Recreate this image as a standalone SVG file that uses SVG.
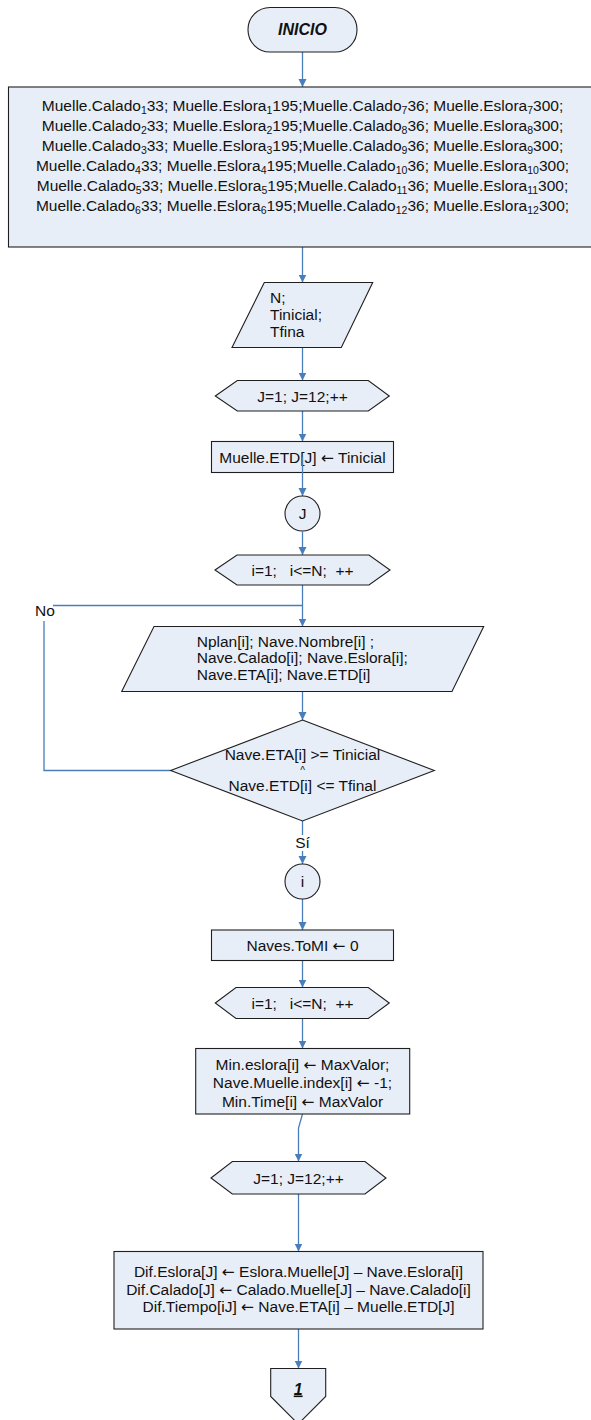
<svg xmlns="http://www.w3.org/2000/svg" width="591" height="1420" viewBox="0 0 591 1420">
  <defs>
    <style>
      .shape { fill: #E8EEF7; stroke: #1F1F1F; stroke-width: 1.1; }
      .conn { fill: none; stroke: #4A7EBB; stroke-width: 1.3; }
      .arrow { marker-end: url(#head); }
      text { font-family: "Liberation Sans", Arial, sans-serif; font-size: 15.5px; fill: #111; }
      .c { text-anchor: middle; }
      .bi { font-weight: bold; font-style: italic; font-size: 16px; }
      .sub { font-size: 10.5px; }
      .arr { font-family: "DejaVu Sans", sans-serif; }
    </style>
    <marker id="head" viewBox="0 0 10 10" refX="10" refY="5" markerWidth="8" markerHeight="9" markerUnits="userSpaceOnUse" orient="auto">
      <path d="M0,0 L10,5 L0,10 Z" fill="#4A7EBB"/>
    </marker>
  </defs>

  <!-- connectors -->
  <g id="connectors">
    <line class="conn arrow" x1="302.5" y1="52" x2="302.5" y2="87"/>
    <line class="conn arrow" x1="302.5" y1="247" x2="302.5" y2="282.5"/>
    <line class="conn arrow" x1="302.5" y1="347.5" x2="302.5" y2="380.5"/>
    <line class="conn arrow" x1="302.5" y1="411" x2="302.5" y2="441.5"/>
    <line class="conn arrow" x1="302.5" y1="585" x2="302.5" y2="626.5"/>
    <line class="conn arrow" x1="302.5" y1="691.5" x2="302.5" y2="720"/>
    <line class="conn arrow" x1="302.5" y1="899" x2="302.5" y2="930"/>
    <line class="conn arrow" x1="302.5" y1="960.5" x2="302.5" y2="987.5"/>
    <line class="conn arrow" x1="302.5" y1="1018.5" x2="302.5" y2="1048.5"/>
    <path class="conn arrow" d="M302.5,1114 L298.5,1128 L298.5,1161.5"/>
    <line class="conn arrow" x1="298.5" y1="1194" x2="298.5" y2="1251.5"/>
    <line class="conn arrow" x1="298.5" y1="1329" x2="298.5" y2="1368.5"/>
    <!-- No branch loops back above the input -->
    <path class="conn" d="M170.7,770.5 H44 V621"/>
    <path class="conn" d="M53,605.5 H302.5"/>
    <!-- Sí branch -->
    <line class="conn" x1="302.5" y1="821" x2="302.5" y2="835"/>
    <line class="conn arrow" x1="302.5" y1="851" x2="302.5" y2="864"/>
  </g>

  <g id="inicio">
    <rect class="shape" x="248" y="7.5" width="109" height="44.5" rx="22" ry="22"/>
    <text class="c bi" x="302.5" y="35">INICIO</text>
  </g>

  <g id="muelles">
    <rect class="shape" x="8.5" y="87" width="584" height="160"/>
    <text class="c" x="302.5" y="110.5">Muelle.Calado<tspan class="sub" dy="3">1</tspan><tspan dy="-3">33; Muelle.Eslora</tspan><tspan class="sub" dy="3">1</tspan><tspan dy="-3">195;Muelle.Calado</tspan><tspan class="sub" dy="3">7</tspan><tspan dy="-3">36; Muelle.Eslora</tspan><tspan class="sub" dy="3">7</tspan><tspan dy="-3">300;</tspan></text>
    <text class="c" x="302.5" y="130.5">Muelle.Calado<tspan class="sub" dy="3">2</tspan><tspan dy="-3">33; Muelle.Eslora</tspan><tspan class="sub" dy="3">2</tspan><tspan dy="-3">195;Muelle.Calado</tspan><tspan class="sub" dy="3">8</tspan><tspan dy="-3">36; Muelle.Eslora</tspan><tspan class="sub" dy="3">8</tspan><tspan dy="-3">300;</tspan></text>
    <text class="c" x="302.5" y="150.5">Muelle.Calado<tspan class="sub" dy="3">3</tspan><tspan dy="-3">33; Muelle.Eslora</tspan><tspan class="sub" dy="3">3</tspan><tspan dy="-3">195;Muelle.Calado</tspan><tspan class="sub" dy="3">9</tspan><tspan dy="-3">36; Muelle.Eslora</tspan><tspan class="sub" dy="3">9</tspan><tspan dy="-3">300;</tspan></text>
    <text class="c" x="302.5" y="170.5">Muelle.Calado<tspan class="sub" dy="3">4</tspan><tspan dy="-3">33; Muelle.Eslora</tspan><tspan class="sub" dy="3">4</tspan><tspan dy="-3">195;Muelle.Calado</tspan><tspan class="sub" dy="3">10</tspan><tspan dy="-3">36; Muelle.Eslora</tspan><tspan class="sub" dy="3">10</tspan><tspan dy="-3">300;</tspan></text>
    <text class="c" x="302.5" y="190.5">Muelle.Calado<tspan class="sub" dy="3">5</tspan><tspan dy="-3">33; Muelle.Eslora</tspan><tspan class="sub" dy="3">5</tspan><tspan dy="-3">195;Muelle.Calado</tspan><tspan class="sub" dy="3">11</tspan><tspan dy="-3">36; Muelle.Eslora</tspan><tspan class="sub" dy="3">11</tspan><tspan dy="-3">300;</tspan></text>
    <text class="c" x="302.5" y="210.5">Muelle.Calado<tspan class="sub" dy="3">6</tspan><tspan dy="-3">33; Muelle.Eslora</tspan><tspan class="sub" dy="3">6</tspan><tspan dy="-3">195;Muelle.Calado</tspan><tspan class="sub" dy="3">12</tspan><tspan dy="-3">36; Muelle.Eslora</tspan><tspan class="sub" dy="3">12</tspan><tspan dy="-3">300;</tspan></text>
  </g>

  <g id="entrada-n">
    <polygon class="shape" points="264.3,282.5 372.7,282.5 341.3,347.5 232,347.5"/>
    <text x="270" y="303">N;</text>
    <text x="270" y="320">Tinicial;</text>
    <text x="270" y="337">Tfina</text>
  </g>

  <g id="bucle-j1">
    <polygon class="shape" points="215.3,396 237.3,380.5 368.3,380.5 389.3,396 368.3,411 237.3,411"/>
    <text class="c" x="302.5" y="401.5">J=1; J=12;++</text>
  </g>

  <g id="asigna-etd">
    <rect class="shape" x="211.5" y="441.5" width="182" height="31"/>
    <text class="c" x="302.5" y="463">Muelle.ETD[J] <tspan class="arr">←</tspan> Tinicial</text>
  </g>
  <line class="conn arrow" x1="302.5" y1="457" x2="302.5" y2="496"/>

  <g id="conector-j">
    <circle class="shape" cx="302.5" cy="513.5" r="17.5"/>
    <text class="c" x="302.5" y="519">J</text>
  </g>
  <line class="conn arrow" x1="302.5" y1="531" x2="302.5" y2="555"/>

  <g id="bucle-i1">
    <polygon class="shape" points="215,570 237,555 369,555 390,570 369,585 237,585"/>
    <text class="c" x="302.5" y="575.5" xml:space="preserve">i=1;   i&lt;=N;  ++</text>
  </g>

  <text id="etiqueta-no" x="35" y="616">No</text>

  <g id="entrada-nave">
    <polygon class="shape" points="154,626.5 483.7,626.5 452,691.5 121.7,691.5"/>
    <text x="196.7" y="646.5">Nplan[i]; Nave.Nombre[i] ;</text>
    <text x="196.7" y="663.3">Nave.Calado[i]; Nave.Eslora[i];</text>
    <text x="196.7" y="680">Nave.ETA[i]; Nave.ETD[i]</text>
  </g>

  <g id="decision">
    <polygon class="shape" points="302.5,720 434.3,770.5 302.5,821 170.7,770.5"/>
    <text class="c" x="302.5" y="760">Nave.ETA[i] &gt;= Tinicial</text>
    <text class="c" x="302.5" y="774" style="font-size:10px">^</text>
    <text class="c" x="302.5" y="790.5">Nave.ETD[i] &lt;= Tfinal</text>
  </g>

  <text id="etiqueta-si" class="c" x="302.5" y="848">Sí</text>

  <g id="conector-i">
    <circle class="shape" cx="302.5" cy="881.5" r="17.5"/>
    <text class="c" x="302.5" y="887">i</text>
  </g>

  <g id="naves-tomi">
    <rect class="shape" x="211.5" y="930" width="182" height="30.5"/>
    <text class="c" x="302.5" y="951">Naves.ToMI <tspan class="arr">←</tspan> 0</text>
  </g>

  <g id="bucle-i2">
    <polygon class="shape" points="215.3,1003 236,987.5 368.3,987.5 389.3,1003 368.3,1018.5 236,1018.5"/>
    <text class="c" x="302.5" y="1008.5" xml:space="preserve">i=1;   i&lt;=N;  ++</text>
  </g>

  <g id="inicializa-min">
    <rect class="shape" x="195.7" y="1048.5" width="214" height="65.5"/>
    <text class="c" x="302.5" y="1069.5">Min.eslora[i] <tspan class="arr">←</tspan> MaxValor;</text>
    <text class="c" x="302.5" y="1088">Nave.Muelle.index[i] <tspan class="arr">←</tspan> -1;</text>
    <text class="c" x="302.5" y="1106.5">Min.Time[i] <tspan class="arr">←</tspan> MaxValor</text>
  </g>

  <g id="bucle-j2">
    <polygon class="shape" points="211,1178 232.3,1161.5 365,1161.5 386,1178 365,1194 232.3,1194"/>
    <text class="c" x="298.5" y="1183.5">J=1; J=12;++</text>
  </g>

  <g id="diferencias">
    <rect class="shape" x="114" y="1251.5" width="369" height="77.5"/>
    <text class="c" x="298.5" y="1277">Dif.Eslora[J] <tspan class="arr">←</tspan> Eslora.Muelle[J] – Nave.Eslora[i]</text>
    <text class="c" x="298.5" y="1294.5">Dif.Calado[J] <tspan class="arr">←</tspan> Calado.Muelle[J] – Nave.Calado[i]</text>
    <text class="c" x="298.5" y="1312">Dif.Tiempo[iJ] <tspan class="arr">←</tspan> Nave.ETA[i] – Muelle.ETD[J]</text>
  </g>

  <g id="conector-pagina-1">
    <polygon class="shape" points="270.7,1368.5 325.7,1368.5 325.7,1396.5 298.2,1424 270.7,1396.5"/>
    <text class="c bi" x="298.2" y="1394.5" text-decoration="underline">1</text>
  </g>
</svg>
